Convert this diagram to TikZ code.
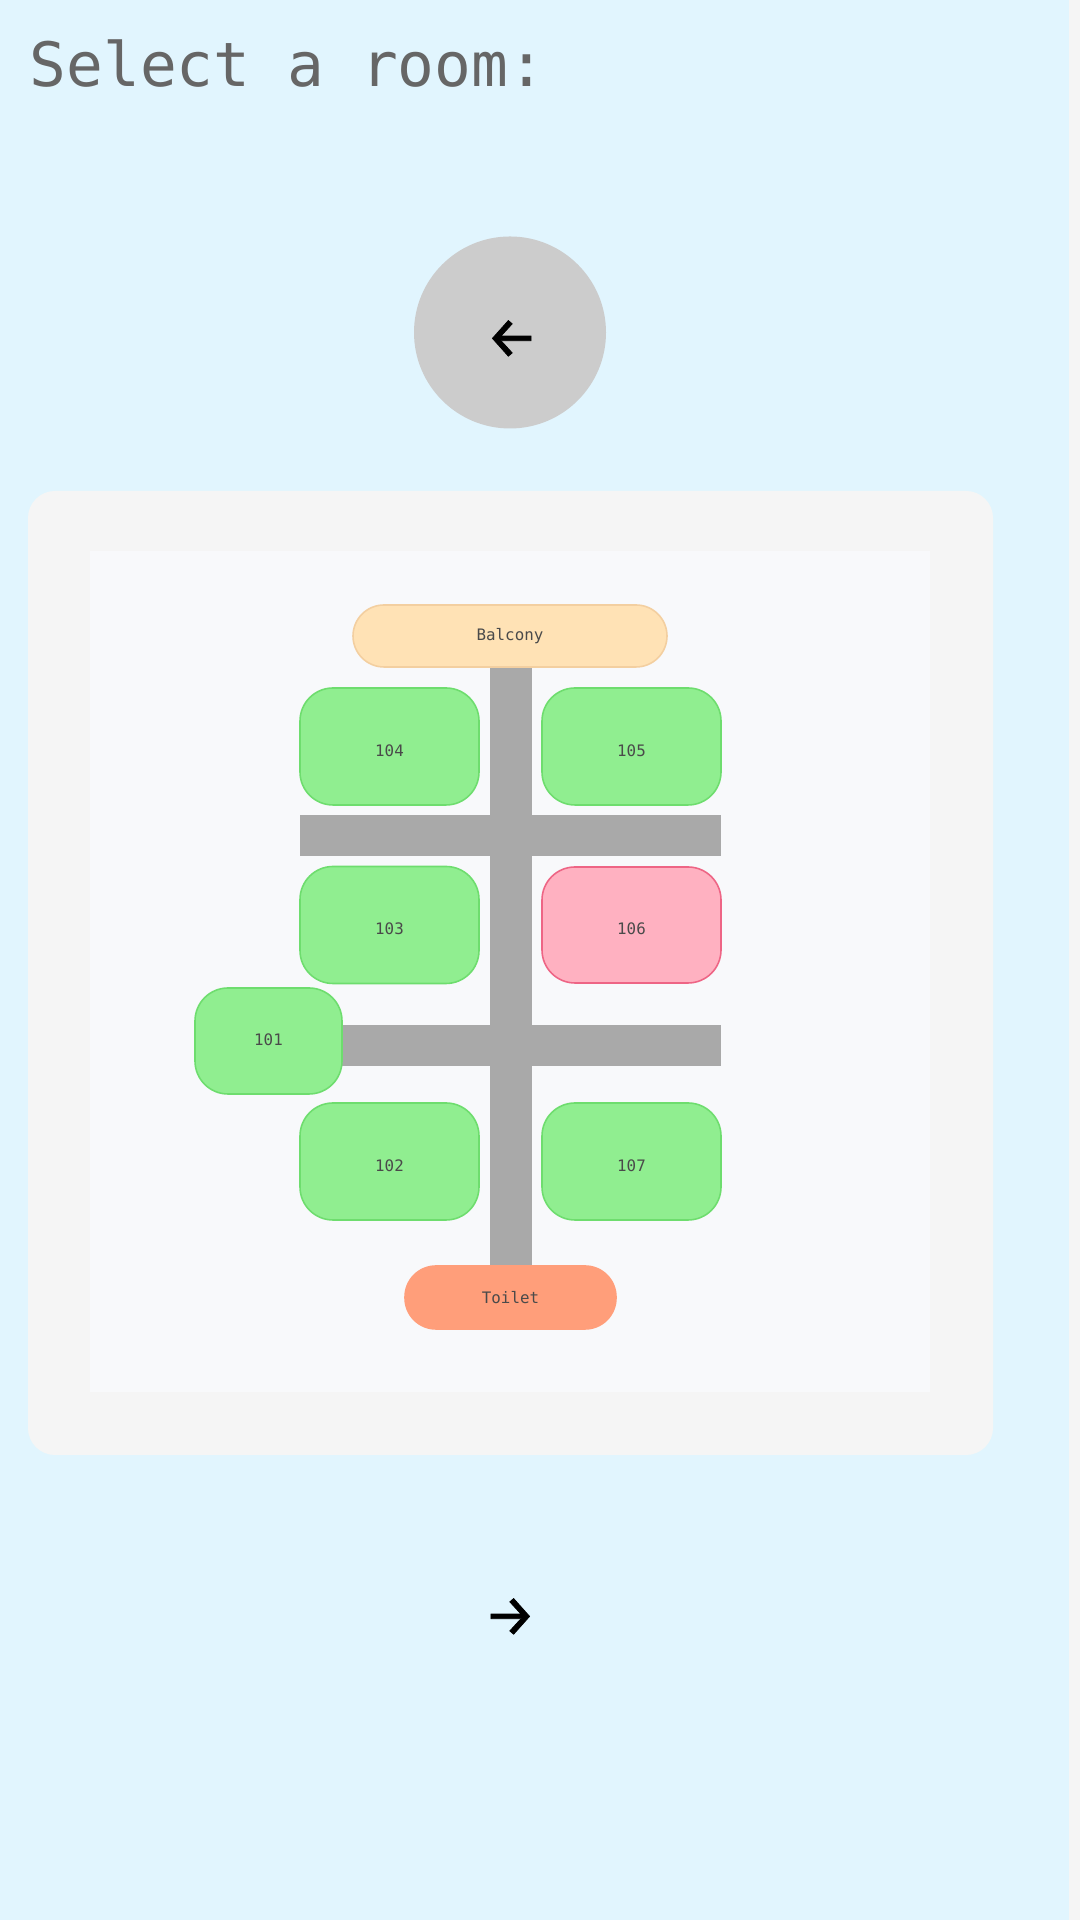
\documentclass[tikz,border=0pt]{standalone}
\usepackage{fontspec}
\usepackage{xcolor}
\setmainfont{DejaVu Sans Mono}
\newfontfamily\arrowfont[FakeBold=1.2]{Fira Sans}

\definecolor{pagebg}{HTML}{E1F5FE}
\definecolor{scrollbg}{HTML}{F5F5F5}
\definecolor{panelbg}{HTML}{F5F5F5}
\definecolor{planbg}{HTML}{F8F9FB}
\definecolor{btngray}{HTML}{CCCCCC}
\definecolor{hallgray}{HTML}{A9A9A9}
\definecolor{titlegray}{HTML}{666666}
\definecolor{labelgray}{HTML}{4A4A4A}
\definecolor{freefill}{HTML}{90EE90}
\definecolor{freeline}{HTML}{6EDD6E}
\definecolor{busyfill}{HTML}{FFB1C1}
\definecolor{busyline}{HTML}{EE6585}
\definecolor{balconyfill}{HTML}{FFE2B5}
\definecolor{balconyline}{HTML}{F3CFA0}
\definecolor{toiletfill}{HTML}{FF9E7A}

\tikzset{
    hall/.style={rectangle, fill=hallgray, inner sep=0pt},
    room/.style={rectangle, rounded corners=0.33cm, line width=0.45pt, inner sep=0pt,
        font=\fontsize{4.5}{5}\selectfont, text=labelgray},
    freeroom/.style={room, fill=freefill, draw=freeline},
    busyroom/.style={room, fill=busyfill, draw=busyline},
    arrowtext/.style={inner sep=0pt, font=\arrowfont\fontsize{16.5}{20}\selectfont, text=black}
}

\begin{document}
\begin{tikzpicture}
    \useasboundingbox (0,0) rectangle (10.8,19.2);

    % Page and scrollbar strip
    \fill[pagebg] (0,0) rectangle (10.8,19.2);
    \fill[scrollbg] (10.69,0) rectangle (10.8,19.2);

    % Title
    \node[anchor=base west, inner sep=0pt, text=titlegray, font=\fontsize{17.4}{20}\selectfont]
        (title) at (0.29,18.336) {Select a room:};

    % Back button
    \node[circle, fill=btngray, minimum size=1.92cm, inner sep=0pt] (backbtn) at (5.10,15.875) {};
    \node[arrowtext] (backarrow) at (5.12,15.81) {←};

    % Panel and plan area
    \fill[panelbg, rounded corners=0.27cm] (0.28,4.65) rectangle (9.93,14.29);
    \fill[planbg] (0.90,5.28) rectangle (9.30,13.69);

    % Halls
    \node[hall, minimum width=0.42cm, minimum height=5.97cm] (spine) at (5.11,9.535) {};
    \node[hall, minimum width=4.21cm, minimum height=0.41cm] (halltop) at (5.105,10.845) {};
    \node[hall, minimum width=4.21cm, minimum height=0.41cm] (hallbottom) at (5.105,8.745) {};

    % Rooms, free ones (green)
    \foreach \x/\y/\label in {
        3.895/11.735/104,
        6.315/11.735/105,
        3.895/9.95/103,
        3.895/7.585/102,
        6.315/7.585/107
    }
    {
        \node[freeroom, minimum width=1.79cm, minimum height=1.17cm, text height=5.6pt] (room\label) at (\x,\y) {\label};
    }
    \node[freeroom, minimum width=1.47cm, minimum height=1.06cm, text depth=1pt] (room101) at (2.685,8.79) {101};

    % Taken room (pink)
    \node[busyroom, minimum width=1.79cm, minimum height=1.16cm, text height=5.6pt] (room106) at (6.315,9.95) {106};

    % Ends of the spine
    \node[room, fill=balconyfill, draw=balconyline, rounded corners=0.31cm,
        minimum width=3.14cm, minimum height=0.62cm] (balcony) at (5.10,12.84) {Balcony};
    \node[room, fill=toiletfill, draw=toiletfill, rounded corners=0.31cm,
        minimum width=2.11cm, minimum height=0.63cm] (toilet) at (5.105,6.225) {Toilet};

    % Next arrow
    \node[arrowtext] (nextarrow) at (5.10,3.03) {→};
\end{tikzpicture}
\end{document}
